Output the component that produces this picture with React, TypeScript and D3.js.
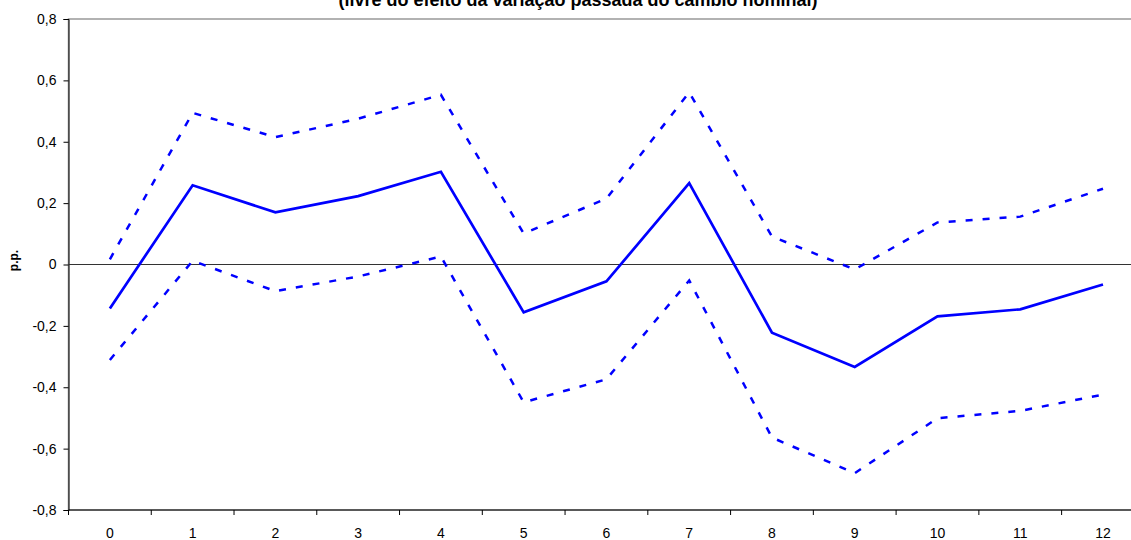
import React, { useEffect, useRef } from "react";
import * as d3 from "d3";

const categories = ["0", "1", "2", "3", "4", "5", "6", "7", "8", "9", "10", "11", "12"];
const central = [-0.143, 0.258, 0.17, 0.223, 0.302, -0.156, -0.055, 0.265, -0.222, -0.334, -0.169, -0.146, -0.065];
const upper = [0.017, 0.494, 0.415, 0.475, 0.553, 0.101, 0.215, 0.561, 0.091, -0.016, 0.137, 0.156, 0.247];
const lower = [-0.311, 0.012, -0.087, -0.039, 0.026, -0.449, -0.374, -0.052, -0.564, -0.68, -0.501, -0.477, -0.424];
const yTicks = [-0.8, -0.6, -0.4, -0.2, 0, 0.2, 0.4, 0.6, 0.8];

const font = "Arial, 'Liberation Sans', sans-serif";

const App = () => {
  const container = useRef<HTMLDivElement>(null);

  useEffect(() => {
    const el = container.current;
    if (!el) return;
    el.innerHTML = "";

    const W = 1131, H = 540;
    const left = 68.5, top = 19, bottom = 510;
    const right = left + 13 * 82.76;

    const svg = d3.select(el)
      .append("svg")
      .attr("width", W)
      .attr("height", H)
      .style("display", "block")
      .style("font-family", font);

    const x = d3.scaleBand().domain(categories).range([left, right]).padding(0);
    const y = d3.scaleLinear().domain([-0.8, 0.8]).range([bottom, top]);
    const cx = (i: number) => (x(categories[i]) as number) + x.bandwidth() / 2;

    // plot area border (gray)
    svg.append("rect")
      .attr("x", left).attr("y", top)
      .attr("width", right - left).attr("height", bottom - top)
      .attr("fill", "none").attr("stroke", "#999").attr("stroke-width", 1.5);

    // title (second line, cut at the top)
    svg.append("text")
      .attr("x", 578).attr("y", 6)
      .attr("text-anchor", "middle")
      .style("font-size", "18px").style("font-weight", "bold")
      .text("(livre do efeito da variação passada do câmbio nominal)");

    // y axis
    const fmt = (v: number) => (Math.abs(v) < 1e-9 ? "0" : d3.format(".1f")(v).replace(".", ",").replace("−", "-"));
    svg.append("g")
      .attr("transform", `translate(${left},0)`)
      .call(d3.axisLeft(y).tickValues(yTicks).tickSize(5).tickPadding(7).tickFormat((d) => fmt(d as number)))
      .call((g) => g.select(".domain").attr("stroke", "#000"))
      .call((g) => g.selectAll("text").style("font-size", "14px").style("font-family", font).attr("fill", "#000"));

    // zero line
    svg.append("line")
      .attr("x1", left).attr("x2", right)
      .attr("y1", y(0)).attr("y2", y(0))
      .attr("stroke", "#333").attr("stroke-width", 1);

    // x axis with ticks between categories
    const xg = svg.append("g");
    xg.append("line")
      .attr("x1", left).attr("x2", right)
      .attr("y1", bottom).attr("y2", bottom)
      .attr("stroke", "#000");
    d3.range(categories.length + 1).forEach((i) => {
      const xx = left + i * x.bandwidth();
      xg.append("line")
        .attr("x1", xx).attr("x2", xx)
        .attr("y1", bottom).attr("y2", bottom + 5)
        .attr("stroke", "#000");
    });
    xg.selectAll("text.xl")
      .data(categories)
      .enter()
      .append("text")
      .attr("class", "xl")
      .attr("x", (d, i) => cx(i))
      .attr("y", 538)
      .attr("text-anchor", "middle")
      .style("font-size", "14px")
      .text((d) => d);

    // y label
    svg.append("text")
      .attr("transform", `translate(18,${y(0) - 4}) rotate(-90)`)
      .attr("text-anchor", "middle")
      .style("font-size", "12px").style("font-weight", "bold")
      .text("p.p.");

    const line = d3.line<number>()
      .x((d, i) => cx(i))
      .y((d) => y(d));

    svg.append("path").datum(upper)
      .attr("d", line).attr("fill", "none")
      .attr("stroke", "#0000ff").attr("stroke-width", 2.5)
      .attr("stroke-dasharray", "7,10");

    svg.append("path").datum(lower)
      .attr("d", line).attr("fill", "none")
      .attr("stroke", "#0000ff").attr("stroke-width", 2.5)
      .attr("stroke-dasharray", "7,10");

    svg.append("path").datum(central)
      .attr("d", line).attr("fill", "none")
      .attr("stroke", "#0000ff").attr("stroke-width", 2.7);
  }, []);

  return <div ref={container} style={{ position: "absolute", left: 0, top: 0 }}></div>;
};

export default App;
